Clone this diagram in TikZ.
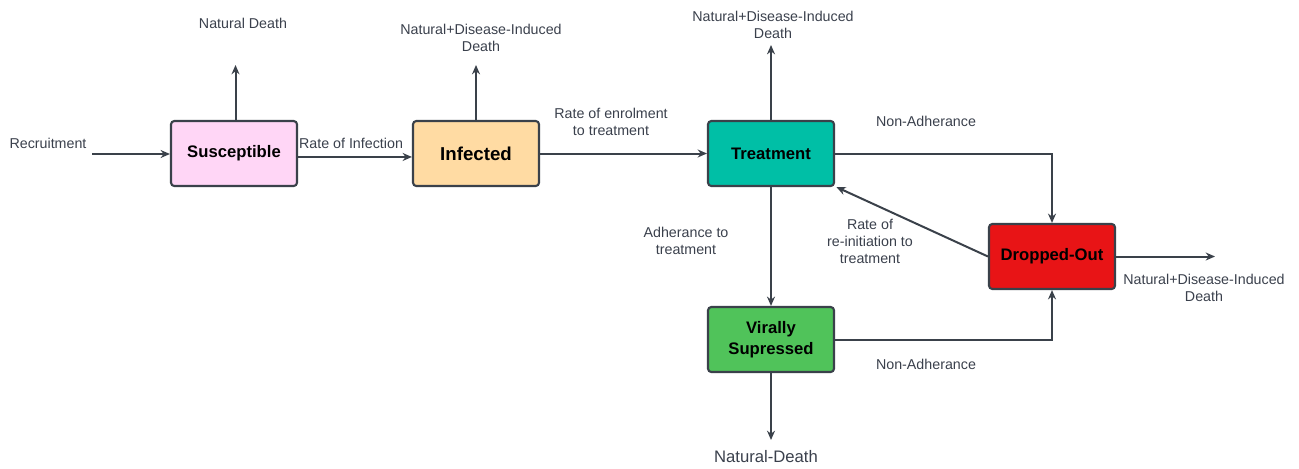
\documentclass[tikz,border=0pt]{standalone}
\usepackage{fontspec}
\setmainfont{Liberation Sans}
\usetikzlibrary{arrows.meta}
\definecolor{edge}{HTML}{3A414A}
\definecolor{txt}{HTML}{3A404C}
\definecolor{cS}{HTML}{FFD6F6}
\definecolor{cI}{HTML}{FFDBA3}
\definecolor{cT}{HTML}{00BFA6}
\definecolor{cD}{HTML}{E81416}
\definecolor{cV}{HTML}{50C35A}
\tikzset{
  box/.style={draw=edge, line width=1.6pt, rounded corners=2.5pt, minimum width=94.5pt, minimum height=48.75pt, inner sep=0pt, align=center, font=\fontsize{12.5}{15.5}\selectfont\bfseries, text=black},
  lbl/.style={inner sep=0pt, align=center, text=txt, font=\fontsize{10.7}{12.9}\selectfont},
  conn/.style={draw=edge, line width=1.5pt, -{Stealth[length=7pt,width=6pt]}},
}
\begin{document}
\begin{tikzpicture}[x=0.75pt,y=-0.75pt]
\useasboundingbox (0,0) rectangle (1299,468);
% boxes
\node[box, fill=cS] (S) at (234,153.5) {Susceptible};
\node[box, fill=cI] (I) at (476,153.5) {\fontsize{14}{17}\selectfont Infected};
\node[box, fill=cT] (T) at (771,153.5) {Treatment};
\node[box, fill=cD] (D) at (1052,256.5) {Dropped-Out};
\node[box, fill=cV] (V) at (771,339.5) {Virally\\Supressed};
% free ends
\coordinate (rec) at (92,154);
\coordinate (sd) at (235.5,65);
\coordinate (id) at (476,65);
\coordinate (td) at (771,45);
\coordinate (dd) at (1215,256.5);
\coordinate (vd) at (771,440);
\coordinate (tc) at (1052,153.5);
\coordinate (vc) at (1052,340);
% labels
\node[lbl] (lrec) at (48,143) {Recruitment};
\node[lbl] (lsd) at (243,23) {Natural Death};
\node[lbl] (linf) at (351,143) {Rate of Infection};
\node[lbl] (lid) at (481,37.5) {Natural+Disease-Induced\\Death};
\node[lbl] (lenr) at (611,122) {Rate of enrolment\\to treatment};
\node[lbl] (ltd) at (773,24.5) {Natural+Disease-Induced\\Death};
\node[lbl] (lna1) at (926,121) {Non-Adherance};
\node[lbl] (ladh) at (686,241) {Adherance to\\treatment};
\node[lbl] (lre) at (870,241.5) {Rate of\\re-initiation to\\treatment};
\node[lbl] (ldd) at (1204,287.5) {Natural+Disease-Induced\\Death};
\node[lbl] (lna2) at (926,364) {Non-Adherance};
\node[lbl, font=\fontsize{12.5}{15}\selectfont] (lvd) at (766,457) {Natural-Death};
% connectors
\draw[conn] (rec) -- (S.west |- rec);
\draw[conn] (sd |- S.north) -- (sd);
\draw[conn] ([yshift=-2.6pt]S.east) -- ([yshift=-2.6pt]I.west);
\draw[conn] (I.north) -- (id);
\draw[conn] (I.east) -- (T.west);
\draw[conn] (T.north) -- (td);
\draw[conn] (T.east) -- (tc) -- (D.north);
\draw[conn] (T.south) -- (V.north);
\draw[conn] (D.west) -- ([xshift=1pt,yshift=0pt]T.south east);
\draw[conn] (D.east) -- (dd);
\draw[conn] (V.east |- vc) -- (vc) -- (D.south);
\draw[conn] (V.south) -- (vd);
\end{tikzpicture}
\end{document}
